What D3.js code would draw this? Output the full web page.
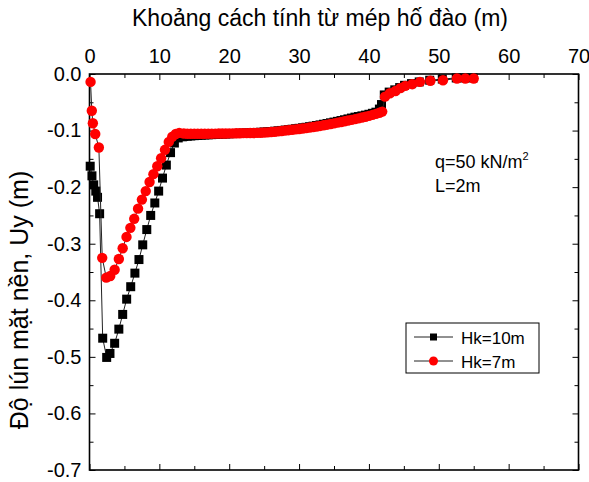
<!DOCTYPE html>
<html>
<head>
<meta charset="utf-8">
<script src="https://cdn.jsdelivr.net/npm/d3@7"></script>
<style>
  html, body { margin: 0; padding: 0; background: #fff; }
  svg { display: block; font-family: "Liberation Sans", Arial, sans-serif; }
</style>
</head>
<body>
<svg id="chart" width="589" height="482"></svg>
<script>
// Distance from the excavation edge (m) and surface settlement Uy (m)
const distHk10 = [0.1, 0.35, 0.6, 0.9, 1.15, 1.45, 1.89, 2.46, 2.93, 3.6, 4.2, 4.75, 5.32, 5.9, 6.5, 7.08, 7.62, 8.2, 8.76, 9.35, 9.9, 10.45, 11.0, 11.6, 12.15, 12.7, 13.3,
  13.5, 14, 14.5, 15, 15.5, 16, 16.5, 17, 17.5, 18, 18.5, 19, 19.5, 20, 20.5, 21, 21.5, 22, 22.5, 23, 23.5, 24, 24.5, 25, 25.5, 26, 26.5, 27, 27.5, 28, 28.5, 29, 29.5,
  30, 30.5, 31, 31.5, 32, 32.5, 33, 33.5, 34, 34.5, 35, 35.5, 36, 36.5, 37, 37.5, 38, 38.5, 39, 39.5, 40, 40.5, 41, 41.5, 41.8,
  42.2, 42.9, 43.7, 44.4, 45.1, 46.1, 47.2, 48.7, 50.5, 52.5, 53.7, 54.9];
const uyHk10 = [-0.163, -0.18, -0.196, -0.207, -0.218, -0.247, -0.467, -0.501, -0.494, -0.476, -0.451, -0.425, -0.398, -0.376, -0.352, -0.328, -0.302, -0.275, -0.25, -0.228, -0.207, -0.184, -0.161, -0.139, -0.122, -0.113, -0.111,
  -0.1105, -0.11, -0.1095, -0.109, -0.1086, -0.1082, -0.1078, -0.1075, -0.1072, -0.1069, -0.1066, -0.1063, -0.106, -0.1057, -0.1054, -0.1051, -0.1048, -0.1045, -0.1042, -0.1039, -0.1036, -0.1033, -0.103, -0.1026, -0.1022, -0.1017, -0.1011, -0.1005, -0.0998, -0.0991, -0.0984, -0.0976, -0.0968,
  -0.096, -0.0951, -0.0942, -0.0932, -0.0922, -0.0911, -0.09, -0.0888, -0.0876, -0.0863, -0.085, -0.0837, -0.0823, -0.0809, -0.0794, -0.0779, -0.0763, -0.0752, -0.0740, -0.0727, -0.0712, -0.0695, -0.0675, -0.062, -0.054,
  -0.037, -0.032, -0.028, -0.024, -0.02, -0.017, -0.014, -0.011, -0.009, -0.007, -0.007, -0.007];

const distHk7 = [0.15, 0.33, 0.48, 0.82, 1.34, 1.82, 2.4, 2.97, 3.6, 4.2, 4.75, 5.3, 5.85, 6.4, 6.95, 7.5, 8.05, 8.6, 9.15, 9.7, 10.25, 10.8, 11.35, 11.85, 12.35, 12.85,
  13.5, 14, 14.5, 15, 15.5, 16, 16.5, 17, 17.5, 18, 18.5, 19, 19.5, 20, 20.5, 21, 21.5, 22, 22.5, 23, 23.5, 24, 24.5, 25, 25.5, 26, 26.5, 27, 27.5, 28, 28.5, 29, 29.5,
  30, 30.5, 31, 31.5, 32, 32.5, 33, 33.5, 34, 34.5, 35, 35.5, 36, 36.5, 37, 37.5, 38, 38.5, 39, 39.5, 40, 40.5, 41, 41.5, 41.9,
  42.3, 43.0, 43.8, 44.5, 45.2, 46.2, 47.3, 48.8, 50.6, 52.6, 53.8, 55.0];
const uyHk7 = [-0.014, -0.065, -0.087, -0.106, -0.13, -0.325, -0.36, -0.357, -0.346, -0.327, -0.308, -0.288, -0.272, -0.256, -0.238, -0.222, -0.207, -0.191, -0.177, -0.163, -0.149, -0.134, -0.12, -0.111, -0.106, -0.104,
  -0.1053, -0.1056, -0.1057, -0.1057, -0.1057, -0.1056, -0.1056, -0.1055, -0.1055, -0.1054, -0.1053, -0.1052, -0.1051, -0.105, -0.1049, -0.1048, -0.1047, -0.1046, -0.1045, -0.1044, -0.1043, -0.1041, -0.1038, -0.1035, -0.1031, -0.1026, -0.102, -0.1014, -0.1007, -0.1, -0.0993, -0.0986, -0.0979,
  -0.0972, -0.0964, -0.0956, -0.0947, -0.0938, -0.0928, -0.0918, -0.0907, -0.0896, -0.0884, -0.0872, -0.086, -0.0848, -0.0836, -0.0823, -0.0811, -0.0798, -0.0784, -0.077, -0.0755, -0.074, -0.0723, -0.0705, -0.0685, -0.0665,
  -0.04, -0.034, -0.03, -0.025, -0.021, -0.018, -0.014, -0.012, -0.011, -0.008, -0.008, -0.008];

const xMajorTicks = [0, 10, 20, 30, 40, 50, 60, 70];
const xMinorTicks = [5, 15, 25, 35, 45, 55, 65];
const yMajorTicks = [0, -0.1, -0.2, -0.3, -0.4, -0.5, -0.6, -0.7];
const yMinorTicks = [-0.05, -0.15, -0.25, -0.35, -0.45, -0.55, -0.65];

const seriesNames = ["Hk=10m", "Hk=7m"];
const seriesColors = ["#000000", "#ff0000"];

const titleText = "Khoảng cách tính từ mép hố đào (m)";
const yTitleText = "Độ lún mặt nền, Uy (m)";

const svg = d3.select("#chart");
const plotLeft = 89.5, plotRight = 578.5, plotTop = 74, plotBottom = 470;

const x = d3.scaleLinear().domain([0, 70]).range([plotLeft, plotRight]);
const y = d3.scaleLinear().domain([0, -0.7]).range([plotTop, plotBottom]);

// Axes: all ticks point into the plot box
function styleAxis(g) {
  g.select(".domain").remove();
  g.selectAll(".tick line").attr("stroke", "#000").attr("stroke-width", 1);
  g.selectAll(".tick text").attr("fill", "#000").attr("font-family", "Liberation Sans, Arial, sans-serif");
}
const fmtY = v => d3.format(".1f")(v).replace("\u2212", "-");

svg.append("g").attr("transform", `translate(0,${plotTop})`)
  .call(d3.axisTop(x).tickValues(xMajorTicks).tickSize(-6).tickPadding(11).tickFormat(d3.format("d")))
  .call(styleAxis).selectAll("text").attr("font-size", 20);
svg.append("g").attr("transform", `translate(0,${plotTop})`)
  .call(d3.axisTop(x).tickValues(xMinorTicks).tickSize(-4).tickFormat(""))
  .call(styleAxis);
svg.append("g").attr("transform", `translate(0,${plotBottom})`)
  .call(d3.axisBottom(x).tickValues(xMajorTicks).tickSize(-6).tickFormat(""))
  .call(styleAxis);
svg.append("g").attr("transform", `translate(0,${plotBottom})`)
  .call(d3.axisBottom(x).tickValues(xMinorTicks).tickSize(-4).tickFormat(""))
  .call(styleAxis);

svg.append("g").attr("transform", `translate(${plotLeft},0)`)
  .call(d3.axisLeft(y).tickValues(yMajorTicks).tickSize(-6).tickPadding(8).tickFormat(fmtY))
  .call(styleAxis).selectAll("text").attr("font-size", 20);
svg.append("g").attr("transform", `translate(${plotLeft},0)`)
  .call(d3.axisLeft(y).tickValues(yMinorTicks).tickSize(-4).tickFormat(""))
  .call(styleAxis);
svg.append("g").attr("transform", `translate(${plotRight},0)`)
  .call(d3.axisRight(y).tickValues(yMajorTicks).tickSize(-6).tickFormat(""))
  .call(styleAxis);
svg.append("g").attr("transform", `translate(${plotRight},0)`)
  .call(d3.axisRight(y).tickValues(yMinorTicks).tickSize(-4).tickFormat(""))
  .call(styleAxis);

// Plot frame
svg.append("rect")
  .attr("x", plotLeft).attr("y", plotTop)
  .attr("width", plotRight - plotLeft).attr("height", plotBottom - plotTop)
  .attr("fill", "none").attr("stroke", "#000").attr("stroke-width", 1.6);

// Titles
svg.append("text")
  .attr("x", 320).attr("y", 26)
  .attr("text-anchor", "middle").attr("font-size", 23)
  .text(titleText);

svg.append("text")
  .attr("transform", "translate(28,300) rotate(-90)")
  .attr("text-anchor", "middle").attr("font-size", 25)
  .text(yTitleText);

// Series
const line = d3.line().x(d => x(d[0])).y(d => y(d[1]));
const hk10 = distHk10.map((d, i) => [d, uyHk10[i]]);
const hk7 = distHk7.map((d, i) => [d, uyHk7[i]]);

const plot = svg.append("g");
plot.append("path").datum(hk10).attr("d", line)
  .attr("fill", "none").attr("stroke", "#222").attr("stroke-width", 1);
plot.selectAll("rect.hk10").data(hk10).enter().append("rect")
  .attr("class", "hk10")
  .attr("x", d => x(d[0]) - 4.5).attr("y", d => y(d[1]) - 4.5)
  .attr("width", 9).attr("height", 9)
  .attr("fill", seriesColors[0]);

plot.append("path").datum(hk7).attr("d", line)
  .attr("fill", "none").attr("stroke", "#222").attr("stroke-width", 1);
plot.selectAll("circle.hk7").data(hk7).enter().append("circle")
  .attr("class", "hk7")
  .attr("cx", d => x(d[0])).attr("cy", d => y(d[1]))
  .attr("r", 5.2)
  .attr("fill", seriesColors[1]);

// Load annotation
const note = svg.append("text").attr("x", 435).attr("y", 168).attr("font-size", 18);
note.append("tspan").text("q=50 kN/m");
note.append("tspan").attr("font-size", 11).attr("dy", -8).text("2");
svg.append("text").attr("x", 435).attr("y", 192).attr("font-size", 18).text("L=2m");

// Legend
const legend = svg.append("g");
legend.append("rect")
  .attr("x", 406).attr("y", 323).attr("width", 133).attr("height", 50)
  .attr("fill", "#fff").attr("stroke", "#000").attr("stroke-width", 1);
seriesNames.forEach((name, i) => {
  const cy = 337 + i * 24;
  legend.append("line")
    .attr("x1", 414).attr("x2", 453).attr("y1", cy).attr("y2", cy)
    .attr("stroke", "#222").attr("stroke-width", 1);
  if (i === 0) {
    legend.append("rect").attr("x", 430).attr("y", cy - 3.5)
      .attr("width", 7).attr("height", 7).attr("fill", seriesColors[0]);
  } else {
    legend.append("circle").attr("cx", 433.5).attr("cy", cy).attr("r", 4.5)
      .attr("fill", seriesColors[1]);
  }
  legend.append("text").attr("x", 461).attr("y", cy + 6.5)
    .attr("font-size", 17).text(name);
});
</script>
</body>
</html>
